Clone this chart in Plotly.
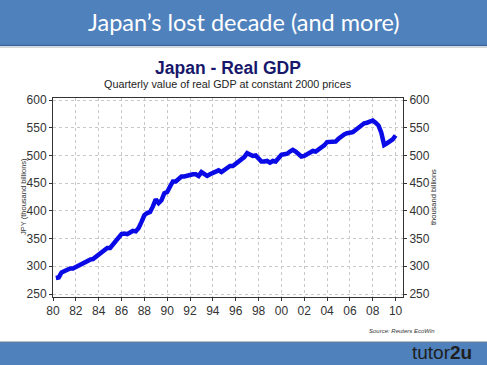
import plotly.graph_objects as go

# Quarterly real GDP, Japan (JPY thousand billions), 1980Q2 .. 2010Q1
start_year = 1980
start_quarter = 2
gdp = [
    279, 280, 289,                       # 1980 Q2-Q4
    292, 295, 296, 296,                  # 1981
    299, 302, 305, 308,                  # 1982
    311, 312, 313, 317,                  # 1983
    320, 325, 330, 333,                  # 1984
    333, 340, 347, 353,                  # 1985
    358, 359, 358, 361,                  # 1986
    364, 363, 369, 380,                  # 1987
    392, 396, 398, 408,                  # 1988
    421, 414, 419, 432,                  # 1989
    434, 444, 453, 453,                  # 1990
    458, 462, 462, 464,                  # 1991
    465, 466, 466, 463,                  # 1992
    470, 467, 463, 466,                  # 1993
    469, 470, 473, 470,                  # 1994
    474, 478, 481, 481,                  # 1995
    485, 489, 492, 497,                  # 1996
    504, 501, 499, 500,                  # 1997
    494, 489, 489, 490,                  # 1998
    487, 490, 489, 494,                  # 1999
    501, 502, 503, 507,                  # 2000
    510, 507, 502, 498,                  # 2001
    499, 502, 505, 508,                  # 2002
    507, 510, 513, 518,                  # 2003
    524, 525, 526, 525,                  # 2004
    530, 535, 538, 540,                  # 2005
    541, 542, 546, 550,                  # 2006
    554, 558, 559, 560,                  # 2007
    563, 559, 554, 541,                  # 2008
    519, 522, 526, 529,                  # 2009
    536,                                 # 2010 Q1
]
x_tick_vals = [1980, 1982, 1984, 1986, 1988, 1990, 1992, 1994, 1996, 1998,
               2000, 2002, 2004, 2006, 2008, 2010]
x_tick_text = ["80", "82", "84", "86", "88", "90", "92", "94", "96", "98",
               "00", "02", "04", "06", "08", "10"]
y_tick_vals = [250, 300, 350, 400, 450, 500, 550, 600]

years = [start_year + (start_quarter - 1) / 4 + i / 4 for i in range(len(gdp))]

W, H = 487, 365
L, R, T, B = 53, 403, 98, 297  # plot area in pixels


def px(x):
    return (x - L) / (R - L)


def py(y):
    return (B - y) / (B - T)


BAND = "#4f81bd"
FONT = "Liberation Sans, Arial, sans-serif"

fig = go.Figure()
fig.add_trace(go.Scatter(x=years, y=gdp, mode="lines",
                         line=dict(color="#0a0ae6", width=4.5),
                         hoverinfo="x+y", showlegend=False))
fig.add_trace(go.Scatter(x=years, y=gdp, mode="lines", yaxis="y2",
                         line=dict(color="rgba(0,0,0,0)", width=0),
                         hoverinfo="skip", showlegend=False))

axis_common = dict(
    showgrid=True, gridcolor="#c8c8c8", griddash="dot", gridwidth=1,
    showline=True, linecolor="#333333", linewidth=1,
    ticks="outside", ticklen=3, tickcolor="#333333",
    tickfont=dict(family=FONT, size=12, color="#333333"),
    zeroline=False,
)

fig.update_layout(
    width=W, height=H,
    margin=dict(l=L, r=W - R, t=T, b=H - B),
    paper_bgcolor="white", plot_bgcolor="white",
    xaxis=dict(range=[1980, 2010.65], tickvals=x_tick_vals, ticktext=x_tick_text,
               mirror=True, **axis_common),
    yaxis=dict(range=[244.6, 603.6], tickvals=y_tick_vals, **axis_common),
    yaxis2=dict(range=[244.6, 603.6], tickvals=y_tick_vals, overlaying="y",
                side="right", **{k: v for k, v in axis_common.items() if k != "showgrid"},
                showgrid=False),
    shapes=[
        dict(type="rect", xref="paper", yref="paper", x0=px(0), x1=px(W),
             y0=py(45), y1=py(0), fillcolor=BAND, line=dict(width=0), layer="below"),
        dict(type="line", xref="paper", yref="paper", x0=px(0), x1=px(W),
             y0=py(45.5), y1=py(45.5), line=dict(color="#3d679a", width=1.5)),
        dict(type="line", xref="paper", yref="paper", x0=px(0), x1=px(W),
             y0=py(47.5), y1=py(47.5), line=dict(color="#d8d8d8", width=1)),
        dict(type="rect", xref="paper", yref="paper", x0=px(0), x1=px(W),
             y0=py(H), y1=py(342), fillcolor=BAND, line=dict(width=0), layer="below"),
        dict(type="line", xref="paper", yref="paper", x0=px(0), x1=px(W),
             y0=py(342), y1=py(342), line=dict(color="#6f7f93", width=1.2)),
    ],
    annotations=[
        dict(text="Japan’s lost decade (and more)", xref="paper", yref="paper",
             x=px(243.5), y=py(22), xanchor="center", yanchor="middle", showarrow=False,
             font=dict(family="Lato, Open Sans, sans-serif", size=23.5, color="white")),
        dict(text="<b>Japan - Real GDP</b>", xref="paper", yref="paper",
             x=px(228), y=py(68), xanchor="center", yanchor="middle", showarrow=False,
             font=dict(family=FONT, size=17.5, color="#17186b")),
        dict(text="Quarterly value of real GDP at constant 2000 prices", xref="paper",
             yref="paper", x=px(228), y=py(84), xanchor="center", yanchor="middle",
             showarrow=False, font=dict(family=FONT, size=10.8, color="#222222")),
        dict(text="JPY (thousand billions)", xref="paper", yref="paper",
             x=px(23), y=py(197), xanchor="center", yanchor="middle", textangle=-90,
             showarrow=False, font=dict(family=FONT, size=7.5, color="#333333")),
        dict(text="thousand billions", xref="paper", yref="paper",
             x=px(433), y=py(197), xanchor="center", yanchor="middle", textangle=-90,
             showarrow=False, font=dict(family=FONT, size=7.5, color="#333333")),
        dict(text="<i>Source: Reuters EcoWin</i>", xref="paper", yref="paper",
             x=px(437), y=py(331), xanchor="right", yanchor="middle",
             showarrow=False, font=dict(family=FONT, size=6, color="#333333")),
        dict(text="tutor<b>2u</b>", xref="paper", yref="paper",
             x=px(474), y=py(352), xanchor="right", yanchor="middle",
             showarrow=False, font=dict(family="Liberation Sans, Arial, sans-serif",
                                        size=19, color="#1e1e1e")),
    ],
)

fig.write_html("out.html",
               config={"displayModeBar": False},
               post_script="document.body.style.margin='0';"
                           "document.body.style.overflow='hidden';")
